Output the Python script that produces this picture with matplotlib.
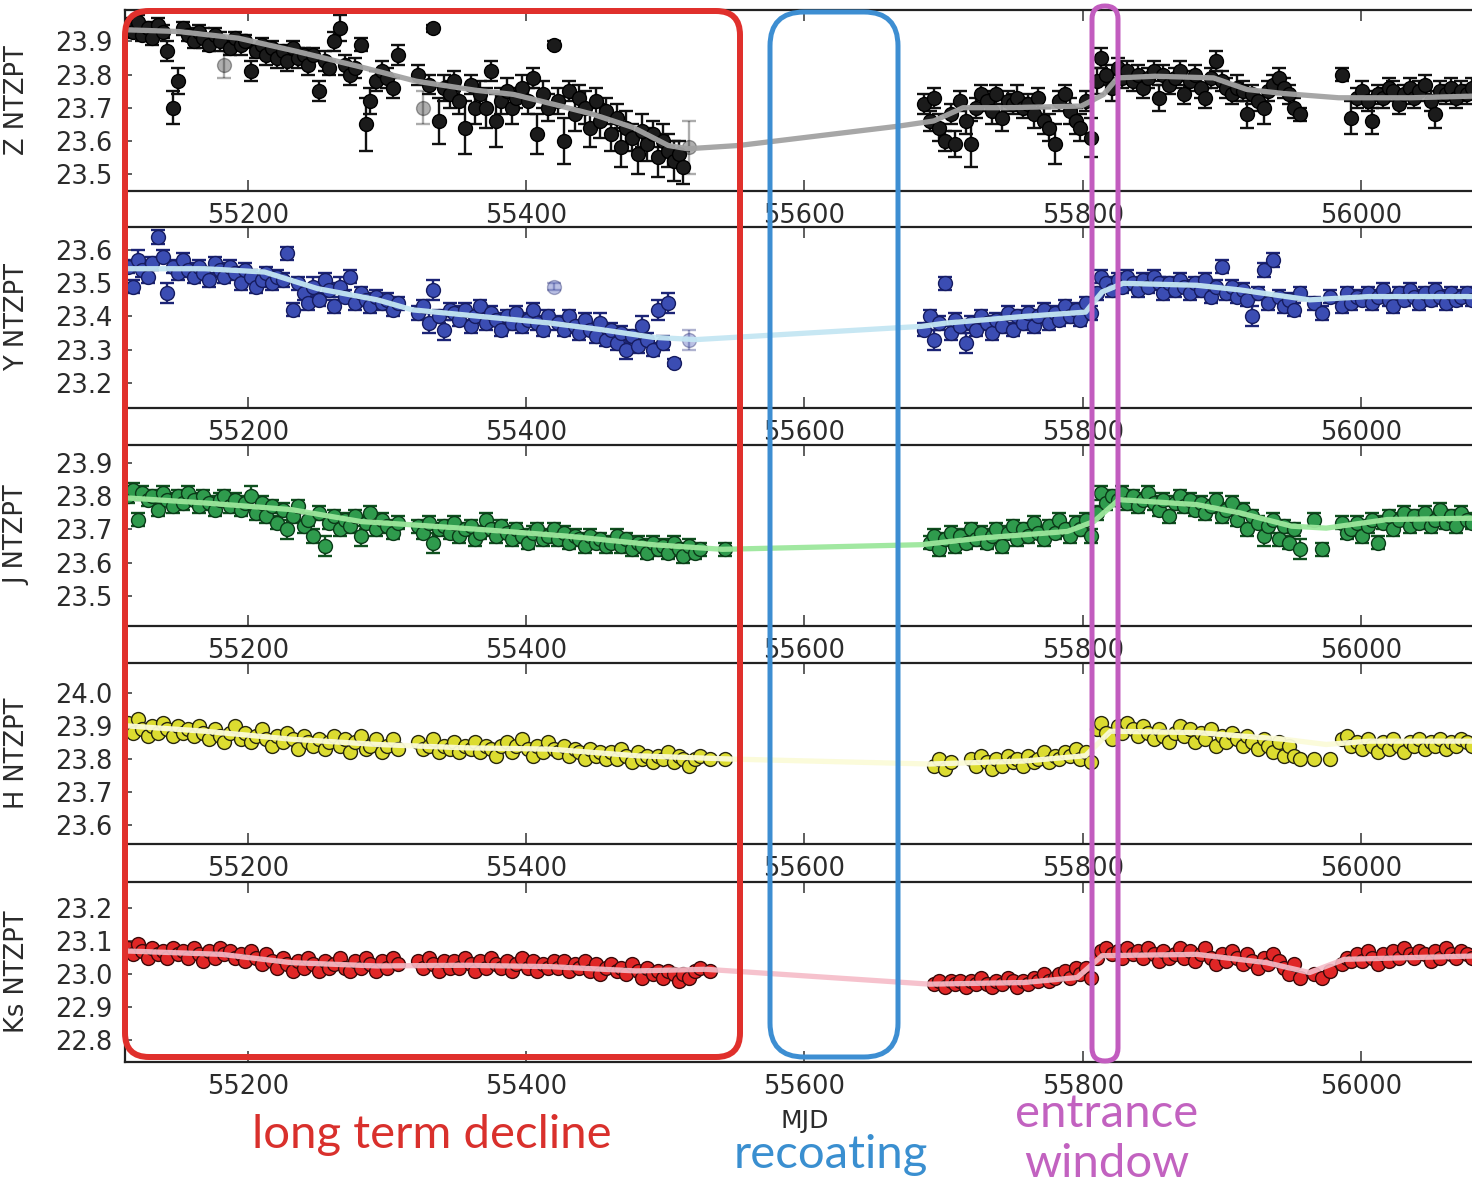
import numpy as np
import matplotlib.pyplot as plt
from matplotlib.patches import FancyBboxPatch

# nights (MJD) shared by all five bands
mjd = [
    55114, 55117, 55121, 55124, 55128, 55131, 55135, 55139, 55142, 55146,
    55150, 55153, 55157, 55161, 55165, 55168, 55172, 55176, 55180, 55183,
    55187, 55191, 55195, 55198, 55202, 55206, 55210, 55213, 55217, 55221,
    55225, 55228, 55232, 55236, 55240, 55243, 55247, 55251, 55255, 55258,
    55262, 55266, 55270, 55273, 55277, 55281, 55285, 55288, 55292, 55296,
    55300, 55304, 55308, 55322, 55326, 55330, 55333, 55337, 55341, 55345,
    55348, 55352, 55356, 55360, 55363, 55367, 55371, 55375, 55378, 55382,
    55386, 55390, 55393, 55397, 55401, 55405, 55408, 55412, 55416, 55420,
    55423, 55427, 55431, 55435, 55438, 55442, 55446, 55450, 55453, 55457,
    55461, 55465, 55468, 55472, 55476, 55480, 55483, 55487, 55491, 55495,
    55498, 55502, 55506, 55510, 55513, 55517, 55521, 55525, 55532, 55543,
    55686, 55690, 55693, 55697, 55701, 55705, 55708, 55712, 55716, 55720,
    55723, 55727, 55731, 55735, 55738, 55742, 55746, 55750, 55753, 55757,
    55761, 55765, 55768, 55772, 55776, 55780, 55783, 55787, 55791, 55795,
    55798, 55802, 55806, 55810, 55813, 55817, 55821, 55825, 55828, 55832,
    55836, 55840, 55843, 55847, 55851, 55855, 55858, 55862, 55866, 55870,
    55873, 55877, 55881, 55885, 55888, 55892, 55896, 55900, 55903, 55907,
    55911, 55915, 55918, 55922, 55926, 55930, 55933, 55937, 55941, 55945,
    55948, 55952, 55956, 55966, 55972, 55978, 55986, 55990, 55993, 55997,
    56001, 56005, 56008, 56012, 56016, 56020, 56023, 56027, 56031, 56035,
    56038, 56042, 56046, 56050, 56053, 56057, 56061, 56065, 56068, 56072,
    56076, 56080,
]

z_zp = [
    23.95, 23.93, 23.96, 23.92, 23.94, 23.91, 23.95, 23.93, 23.87, 23.70,
    23.78, 23.94, 23.92, 23.90, 23.93, 23.91, 23.89, 23.92, 23.90, 23.83,
    23.88, 23.91, 23.89, 23.90, 23.81, 23.87, 23.89, 23.86, 23.88, 23.85,
    23.87, 23.84, 23.88, 23.85, 23.86, 23.83, 23.86, 23.75, 23.84, 23.82,
    23.90, 23.94, 23.83, 23.80, 23.82, 23.89, 23.65, 23.72, 23.78, 23.81,
    23.79, 23.76, 23.86, 23.80, 23.70, 23.77, 23.94, 23.66, 23.76, 23.74,
    23.78, 23.72, 23.64, 23.77, 23.70, 23.74, 23.70, 23.81, 23.66, 23.72,
    23.75, 23.70, 23.73, 23.76, 23.72, 23.79, 23.62, 23.74, 23.70, 23.89,
    23.72, 23.60, 23.75, 23.68, 23.73, 23.70, 23.64, 23.72, 23.66, 23.69,
    23.62, 23.67, 23.58, 23.64, 23.61, 23.56, 23.63, 23.59, 23.62, 23.55,
    23.60, 23.57, 23.54, 23.56, 23.52, 23.58, None, None, None, None,
    23.71, 23.66, 23.73, 23.64, 23.60, 23.68, 23.59, 23.72, 23.66, 23.59,
    23.70, 23.74, 23.72, 23.69, 23.74, 23.67, 23.72, 23.71, 23.73, 23.70,
    23.71, 23.68, 23.73, 23.66, 23.64, 23.59, 23.72, 23.74, 23.69, 23.66,
    23.64, 23.72, 23.61, 23.78, 23.85, 23.80, 23.76, 23.82, 23.79, 23.81,
    23.78, 23.80, 23.76, 23.79, 23.81, 23.73, 23.80, 23.77, 23.79, 23.81,
    23.74, 23.78, 23.80, 23.76, 23.73, 23.79, 23.84, 23.78, 23.76, 23.74,
    23.76, 23.75, 23.68, 23.74, 23.72, 23.70, 23.75, 23.77, 23.79, 23.76,
    23.74, 23.70, 23.68, None, None, None, 23.80, None, 23.67, 23.73,
    23.75, 23.72, 23.66, 23.74, 23.73, 23.76, 23.75, 23.71, 23.74, 23.76,
    23.73, 23.75, 23.77, 23.72, 23.68, 23.75, 23.74, 23.76, 23.73, 23.75,
    23.74, 23.76,
]
z_err = [
    0.02, 0.02, 0.02, 0.02, 0.02, 0.02, 0.02, 0.02, 0.03, 0.05,
    0.04, 0.02, 0.02, 0.02, 0.02, 0.03, 0.02, 0.02, 0.03, 0.04,
    0.02, 0.02, 0.03, 0.02, 0.03, 0.02, 0.02, 0.03, 0.02, 0.03,
    0.02, 0.03, 0.02, 0.03, 0.02, 0.03, 0.02, 0.03, 0.03, 0.02,
    0.03, 0.04, 0.03, 0.03, 0.03, 0.02, 0.08, 0.04, 0.03, 0.03,
    0.03, 0.03, 0.03, 0.03, 0.05, 0.03, 0.01, 0.07, 0.04, 0.04,
    0.03, 0.04, 0.08, 0.03, 0.05, 0.04, 0.06, 0.03, 0.08, 0.04,
    0.04, 0.05, 0.03, 0.04, 0.04, 0.03, 0.06, 0.04, 0.04, 0.01,
    0.04, 0.07, 0.03, 0.05, 0.04, 0.05, 0.06, 0.04, 0.05, 0.04,
    0.05, 0.04, 0.06, 0.05, 0.04, 0.06, 0.05, 0.05, 0.04, 0.06,
    0.05, 0.05, 0.06, 0.04, 0.05, 0.08, None, None, None, None,
    0.03, 0.03, 0.03, 0.04, 0.03, 0.03, 0.04, 0.03, 0.04, 0.07,
    0.03, 0.03, 0.03, 0.04, 0.03, 0.04, 0.03, 0.03, 0.04, 0.03,
    0.03, 0.04, 0.03, 0.04, 0.04, 0.06, 0.03, 0.03, 0.04, 0.04,
    0.04, 0.03, 0.06, 0.04, 0.03, 0.03, 0.04, 0.03, 0.03, 0.03,
    0.03, 0.03, 0.03, 0.03, 0.03, 0.04, 0.03, 0.03, 0.03, 0.03,
    0.03, 0.03, 0.03, 0.03, 0.03, 0.03, 0.03, 0.03, 0.03, 0.03,
    0.04, 0.03, 0.04, 0.03, 0.03, 0.05, 0.03, 0.03, 0.03, 0.03,
    0.03, 0.03, 0.02, None, None, None, 0.02, None, 0.05, 0.03,
    0.03, 0.03, 0.04, 0.03, 0.03, 0.03, 0.03, 0.03, 0.03, 0.03,
    0.03, 0.03, 0.03, 0.03, 0.04, 0.03, 0.03, 0.03, 0.03, 0.03,
    0.03, 0.03,
]
z_flagged = [55183, 55326, 55517]

y_zp = [
    23.55, 23.49, 23.57, 23.54, 23.52, 23.56, 23.64, 23.58, 23.47, 23.55,
    23.53, 23.57, 23.54, 23.52, 23.55, 23.53, 23.51, 23.56, 23.54, 23.52,
    23.55, 23.53, 23.50, 23.54, 23.52, 23.49, 23.51, 23.53, 23.50, 23.52,
    23.51, 23.59, 23.42, 23.50, 23.47, 23.44, 23.49, 23.45, 23.51, 23.48,
    23.43, 23.49, 23.46, 23.52, 23.44, 23.47, 23.45, 23.43, 23.46, 23.44,
    23.45, 23.42, 23.44, 23.41, 23.43, 23.38, 23.48, 23.40, 23.36, 23.42,
    23.41, 23.39, 23.42, 23.37, 23.40, 23.43, 23.38, 23.41, 23.39, 23.36,
    23.40, 23.38, 23.41, 23.37, 23.39, 23.42, 23.38, 23.36, 23.40, 23.49,
    23.38, 23.36, 23.40, 23.37, 23.35, 23.39, 23.36, 23.34, 23.38, 23.33,
    23.36, 23.32, 23.35, 23.30, 23.34, 23.31, 23.37, 23.33, 23.30, 23.42,
    23.32, 23.44, 23.26, None, None, 23.33, None, None, None, None,
    23.36, 23.40, 23.33, 23.38, 23.50, 23.35, 23.39, 23.37, 23.32, 23.38,
    23.36, 23.40, 23.38, 23.35, 23.39, 23.37, 23.41, 23.36, 23.40, 23.38,
    23.41, 23.37, 23.40, 23.42, 23.38, 23.41, 23.39, 23.43, 23.40, 23.42,
    23.39, 23.44, 23.41, 23.47, 23.52, 23.50, 23.48, 23.51, 23.49, 23.52,
    23.50, 23.48, 23.51, 23.49, 23.52, 23.50, 23.47, 23.50, 23.48, 23.51,
    23.49, 23.47, 23.50, 23.48, 23.51, 23.46, 23.49, 23.55, 23.47, 23.49,
    23.46, 23.48, 23.45, 23.40, 23.47, 23.54, 23.44, 23.57, 23.46, 23.43,
    23.45, 23.42, 23.47, 23.44, 23.41, 23.46, 23.43, 23.47, 23.44, 23.46,
    23.45, 23.47, 23.44, 23.46, 23.48, 23.45, 23.43, 23.47, 23.45, 23.48,
    23.46, 23.44, 23.47, 23.45, 23.48, 23.46, 23.44, 23.47, 23.45, 23.46,
    23.47, 23.45,
]
y_err = [
    0.02, 0.02, 0.03, 0.02, 0.02, 0.02, 0.02, 0.02, 0.03, 0.02,
    0.02, 0.02, 0.02, 0.02, 0.02, 0.02, 0.02, 0.02, 0.02, 0.02,
    0.02, 0.02, 0.02, 0.02, 0.02, 0.02, 0.02, 0.02, 0.02, 0.02,
    0.02, 0.02, 0.02, 0.02, 0.02, 0.02, 0.03, 0.02, 0.02, 0.02,
    0.02, 0.03, 0.02, 0.02, 0.02, 0.02, 0.02, 0.02, 0.02, 0.02,
    0.02, 0.02, 0.02, 0.02, 0.02, 0.03, 0.03, 0.02, 0.03, 0.02,
    0.02, 0.02, 0.02, 0.02, 0.02, 0.02, 0.02, 0.02, 0.02, 0.02,
    0.02, 0.02, 0.02, 0.02, 0.02, 0.02, 0.02, 0.02, 0.02, 0.01,
    0.02, 0.02, 0.02, 0.02, 0.02, 0.02, 0.02, 0.02, 0.03, 0.02,
    0.02, 0.02, 0.02, 0.03, 0.02, 0.02, 0.03, 0.02, 0.02, 0.03,
    0.02, 0.03, 0.01, None, None, 0.03, None, None, None, None,
    0.02, 0.02, 0.03, 0.02, 0.02, 0.02, 0.02, 0.02, 0.03, 0.02,
    0.02, 0.02, 0.02, 0.02, 0.02, 0.02, 0.02, 0.02, 0.02, 0.02,
    0.02, 0.02, 0.02, 0.02, 0.02, 0.02, 0.02, 0.02, 0.02, 0.02,
    0.02, 0.02, 0.02, 0.02, 0.02, 0.02, 0.02, 0.02, 0.02, 0.02,
    0.02, 0.02, 0.02, 0.02, 0.02, 0.02, 0.02, 0.02, 0.02, 0.02,
    0.02, 0.02, 0.02, 0.02, 0.02, 0.02, 0.02, 0.02, 0.02, 0.02,
    0.02, 0.02, 0.02, 0.03, 0.02, 0.02, 0.02, 0.02, 0.02, 0.02,
    0.02, 0.02, 0.02, 0.02, 0.02, 0.02, 0.02, 0.02, 0.02, 0.02,
    0.02, 0.02, 0.02, 0.02, 0.02, 0.02, 0.02, 0.02, 0.02, 0.02,
    0.02, 0.02, 0.02, 0.02, 0.02, 0.02, 0.02, 0.02, 0.02, 0.02,
    0.02, 0.02,
]
y_flagged = [55420, 55517]

j_zp = [
    23.80, 23.82, 23.73, 23.81, 23.79, 23.80, 23.76, 23.81, 23.79, 23.77,
    23.80, 23.78, 23.81, 23.79, 23.77, 23.80, 23.78, 23.76, 23.79, 23.80,
    23.77, 23.79, 23.76, 23.78, 23.80, 23.75, 23.78, 23.74, 23.77, 23.72,
    23.76, 23.70, 23.74, 23.77, 23.71, 23.73, 23.68, 23.75, 23.65, 23.72,
    23.74, 23.70, 23.73, 23.71, 23.74, 23.68, 23.72, 23.75, 23.70, 23.73,
    23.71, 23.69, 23.72, 23.71, 23.69, 23.72, 23.66, 23.70, 23.71, 23.69,
    23.72, 23.68, 23.70, 23.71, 23.67, 23.69, 23.73, 23.70, 23.68, 23.71,
    23.69, 23.67, 23.70, 23.68, 23.66, 23.69, 23.70, 23.67, 23.68, 23.70,
    23.67, 23.69, 23.66, 23.68, 23.67, 23.65, 23.68, 23.66, 23.67, 23.65,
    23.66, 23.68, 23.65, 23.67, 23.64, 23.66, 23.65, 23.63, 23.66, 23.64,
    23.65, 23.63, 23.66, 23.64, 23.62, 23.65, 23.63, 23.64, None, 23.64,
    None, 23.66, 23.68, 23.64, 23.67, 23.69, 23.65, 23.68, 23.66, 23.70,
    23.67, 23.69, 23.66, 23.68, 23.70, 23.65, 23.69, 23.71, 23.67, 23.70,
    23.68, 23.72, 23.69, 23.67, 23.71, 23.69, 23.73, 23.70, 23.68, 23.72,
    23.70, 23.73, 23.68, 23.75, 23.81, 23.78, 23.80, 23.79, 23.81, 23.78,
    23.80, 23.77, 23.79, 23.81, 23.78, 23.76, 23.79, 23.74, 23.78, 23.80,
    23.77, 23.79, 23.76, 23.78, 23.75, 23.77, 23.79, 23.74, 23.76, 23.78,
    23.73, 23.76, 23.70, 23.74, 23.72, 23.68, 23.71, 23.73, 23.67, 23.71,
    23.66, 23.70, 23.64, 23.73, 23.64, None, 23.72, 23.69, 23.70, 23.72,
    23.68, 23.71, 23.73, 23.66, 23.72, 23.74, 23.70, 23.73, 23.75, 23.71,
    23.74, 23.72, 23.75, 23.71, 23.73, 23.76, 23.72, 23.74, 23.71, 23.75,
    23.73, 23.72,
]
j_err = [
    0.02, 0.02, 0.02, 0.02, 0.02, 0.02, 0.02, 0.02, 0.02, 0.02,
    0.02, 0.02, 0.02, 0.02, 0.02, 0.02, 0.02, 0.02, 0.02, 0.02,
    0.02, 0.02, 0.02, 0.02, 0.03, 0.02, 0.02, 0.02, 0.02, 0.02,
    0.02, 0.03, 0.02, 0.02, 0.02, 0.02, 0.02, 0.02, 0.03, 0.02,
    0.02, 0.02, 0.02, 0.02, 0.02, 0.03, 0.02, 0.02, 0.02, 0.02,
    0.02, 0.02, 0.02, 0.02, 0.02, 0.02, 0.03, 0.02, 0.02, 0.02,
    0.02, 0.02, 0.02, 0.02, 0.02, 0.02, 0.02, 0.02, 0.02, 0.02,
    0.02, 0.02, 0.02, 0.02, 0.02, 0.02, 0.02, 0.02, 0.02, 0.02,
    0.02, 0.02, 0.02, 0.02, 0.02, 0.02, 0.02, 0.02, 0.02, 0.02,
    0.02, 0.02, 0.02, 0.02, 0.02, 0.02, 0.02, 0.02, 0.02, 0.02,
    0.02, 0.02, 0.02, 0.02, 0.02, 0.02, 0.02, 0.02, None, 0.02,
    None, 0.02, 0.02, 0.02, 0.02, 0.02, 0.02, 0.02, 0.02, 0.02,
    0.02, 0.02, 0.02, 0.02, 0.02, 0.02, 0.02, 0.02, 0.02, 0.02,
    0.02, 0.02, 0.02, 0.02, 0.02, 0.02, 0.02, 0.02, 0.02, 0.02,
    0.02, 0.02, 0.02, 0.02, 0.02, 0.02, 0.02, 0.02, 0.02, 0.02,
    0.02, 0.02, 0.02, 0.02, 0.02, 0.02, 0.02, 0.02, 0.02, 0.02,
    0.02, 0.02, 0.02, 0.02, 0.02, 0.02, 0.02, 0.02, 0.02, 0.02,
    0.02, 0.02, 0.02, 0.02, 0.02, 0.03, 0.02, 0.02, 0.02, 0.02,
    0.02, 0.02, 0.03, 0.02, 0.02, None, 0.02, 0.02, 0.02, 0.02,
    0.02, 0.02, 0.02, 0.02, 0.02, 0.02, 0.02, 0.02, 0.02, 0.02,
    0.02, 0.02, 0.02, 0.02, 0.02, 0.02, 0.02, 0.02, 0.02, 0.02,
    0.02, 0.02,
]

h_zp = [
    23.91, 23.88, 23.92, 23.89, 23.87, 23.90, 23.88, 23.91, 23.89, 23.87,
    23.90, 23.88, 23.89, 23.87, 23.90, 23.88, 23.86, 23.89, 23.87, 23.85,
    23.88, 23.90, 23.86, 23.88, 23.85, 23.87, 23.89, 23.86, 23.84, 23.87,
    23.85, 23.88, 23.86, 23.83, 23.87, 23.85, 23.84, 23.86, 23.83, 23.85,
    23.87, 23.84, 23.86, 23.82, 23.85, 23.87, 23.83, 23.84, 23.86, 23.82,
    23.84, 23.86, 23.83, 23.85, 23.83, 23.84, 23.86, 23.82, 23.84, 23.83,
    23.85, 23.82, 23.84, 23.83, 23.85, 23.82, 23.84, 23.83, 23.81, 23.84,
    23.85, 23.82, 23.84, 23.86, 23.83, 23.81, 23.84, 23.82, 23.85, 23.83,
    23.82, 23.84, 23.81, 23.83, 23.82, 23.80, 23.83, 23.81, 23.82, 23.80,
    23.82, 23.80, 23.83, 23.81, 23.79, 23.82, 23.80, 23.81, 23.79, 23.81,
    23.80, 23.82, 23.79, 23.81, 23.80, 23.78, 23.80, 23.81, 23.80, 23.80,
    None, None, 23.78, 23.80, 23.77, 23.79, None, None, None, 23.80,
    23.78, 23.81, 23.79, 23.77, 23.80, 23.78, 23.81, 23.79, 23.80, 23.78,
    23.81, 23.79, 23.80, 23.82, 23.79, 23.81, 23.80, 23.82, 23.81, 23.83,
    23.80, 23.82, 23.79, 23.89, 23.91, 23.88, 23.86, 23.90, 23.88, 23.91,
    23.89, 23.87, 23.90, 23.88, 23.86, 23.89, 23.87, 23.85, 23.88, 23.90,
    23.87, 23.89, 23.85, 23.88, 23.86, 23.89, 23.84, 23.87, 23.85, 23.88,
    23.86, 23.84, 23.87, 23.85, 23.83, 23.86, 23.84, 23.82, 23.85, 23.81,
    23.84, 23.81, 23.80, 23.80, None, 23.80, 23.86, 23.87, 23.84, 23.85,
    23.83, 23.86, 23.84, 23.82, 23.85, 23.83, 23.86, 23.84, 23.82, 23.85,
    23.84, 23.86, 23.83, 23.85, 23.84, 23.86, 23.83, 23.85, 23.84, 23.86,
    23.85, 23.84,
]

ks_zp = [
    23.08, 23.06, 23.09, 23.07, 23.05, 23.08, 23.06, 23.07, 23.05, 23.08,
    23.06, 23.07, 23.05, 23.08, 23.06, 23.04, 23.07, 23.05, 23.08, 23.06,
    23.07, 23.05, 23.06, 23.04, 23.07, 23.05, 23.03, 23.06, 23.04, 23.02,
    23.05, 23.03, 23.01, 23.04, 23.02, 23.05, 23.03, 23.01, 23.04, 23.02,
    23.03, 23.05, 23.02, 23.01, 23.04, 23.02, 23.05, 23.03, 23.01, 23.04,
    23.02, 23.05, 23.03, 23.04, 23.02, 23.05, 23.03, 23.01, 23.04, 23.02,
    23.04, 23.02, 23.05, 23.03, 23.01, 23.04, 23.02, 23.05, 23.03, 23.02,
    23.04, 23.01, 23.03, 23.05, 23.02, 23.04, 23.01, 23.03, 23.02, 23.04,
    23.02, 23.04, 23.01, 23.03, 23.02, 23.04, 23.01, 23.03, 23.00, 23.02,
    23.03, 23.01, 23.02, 23.00, 23.03, 23.01, 22.99, 23.02, 23.00, 23.01,
    22.99, 23.01, 23.00, 22.98, 23.00, 22.99, 23.01, 23.02, 23.01, None,
    None, None, 22.97, 22.98, 22.96, 22.98, 22.97, 22.98, 22.96, 22.98,
    22.97, 22.99, 22.97, 22.96, 22.98, 22.97, 22.99, 22.98, 22.96, 22.98,
    22.97, 22.99, 22.98, 23.00, 22.98, 22.99, 23.00, 23.01, 22.99, 23.02,
    23.00, 23.02, 22.99, 23.05, 23.07, 23.08, 23.06, 23.07, 23.05, 23.08,
    23.06, 23.07, 23.05, 23.08, 23.06, 23.04, 23.07, 23.05, 23.06, 23.08,
    23.05, 23.07, 23.04, 23.06, 23.08, 23.05, 23.03, 23.06, 23.04, 23.07,
    23.05, 23.03, 23.06, 23.04, 23.02, 23.05, 23.03, 23.06, 23.04, 23.02,
    23.00, 23.03, 22.99, 23.00, 22.99, 23.01, 23.03, 23.05, 23.04, 23.06,
    23.04, 23.07, 23.05, 23.03, 23.06, 23.04, 23.07, 23.05, 23.08, 23.06,
    23.05, 23.07, 23.06, 23.04, 23.07, 23.05, 23.08, 23.06, 23.05, 23.07,
    23.06, 23.05,
]

# running trend per band
z_trend_mjd = [55114, 55150, 55193, 55235, 55284, 55321, 55363, 55391, 55420,
               55448, 55477, 55502, 55516, 55553, 55667, 55693, 55714, 55746,
               55799, 55815, 55825, 55852, 55894, 55918, 55944, 55984, 56036, 56081]
z_trend = [23.935, 23.93, 23.91, 23.87, 23.82, 23.78, 23.753, 23.74, 23.71,
           23.68, 23.64, 23.586, 23.576, 23.586, 23.644, 23.66, 23.70, 23.70,
           23.705, 23.74, 23.79, 23.795, 23.79, 23.755, 23.743, 23.73, 23.73, 23.735]
y_trend_mjd = [55114, 55169, 55212, 55250, 55293, 55318, 55367, 55417, 55454,
               55491, 55522, 55684, 55702, 55758, 55802, 55814, 55829, 55882,
               55913, 55963, 56006, 56081]
y_trend = [23.544, 23.544, 23.534, 23.484, 23.45, 23.42, 23.40, 23.38, 23.36,
           23.337, 23.33, 23.37, 23.38, 23.40, 23.413, 23.474, 23.50, 23.494,
           23.48, 23.45, 23.46, 23.46]
j_trend_mjd = [55114, 55169, 55231, 55281, 55318, 55367, 55429, 55491, 55541,
               55684, 55727, 55789, 55808, 55826, 55882, 55913, 55950, 55975,
               56019, 56081]
j_trend = [23.795, 23.78, 23.76, 23.724, 23.714, 23.70, 23.68, 23.654, 23.64,
           23.654, 23.674, 23.694, 23.724, 23.79, 23.775, 23.75, 23.71, 23.704,
           23.73, 23.734]
h_trend_mjd = [55114, 55169, 55231, 55293, 55355, 55417, 55479, 55547, 55690,
               55758, 55802, 55820, 55882, 55944, 55975, 56006, 56081]
h_trend = [23.90, 23.884, 23.86, 23.844, 23.834, 23.83, 23.81, 23.80, 23.785,
           23.794, 23.81, 23.884, 23.88, 23.86, 23.844, 23.854, 23.854]
ks_trend_mjd = [55114, 55181, 55231, 55293, 55355, 55417, 55479, 55529, 55690,
                55758, 55796, 55814, 55882, 55932, 55963, 55988, 56081]
ks_trend = [23.07, 23.06, 23.035, 23.025, 23.027, 23.023, 23.01, 23.015, 22.97,
            22.975, 22.99, 23.056, 23.06, 23.035, 23.005, 23.045, 23.055]


def arr(v):
    return np.array([np.nan if a is None else a for a in v], dtype=float)


x = np.array(mjd, dtype=float)

panels = [
    dict(label='Z NTZPT', y=z_zp, err=z_err, flag=z_flagged, tx=z_trend_mjd, ty=z_trend,
         face='#1b1b1b', edge='#000000', ecol='#111111', tcol='#a2a2a2', talpha=0.95,
         ylim=(23.45, 23.995), ticks=[23.5, 23.6, 23.7, 23.8, 23.9]),
    dict(label='Y NTZPT', y=y_zp, err=y_err, flag=y_flagged, tx=y_trend_mjd, ty=y_trend,
         face='#3b4db3', edge='#161c60', ecol='#1c2476', tcol='#c4e6f3', talpha=0.95,
         ylim=(23.125, 23.67), ticks=[23.2, 23.3, 23.4, 23.5, 23.6]),
    dict(label='J NTZPT', y=j_zp, err=j_err, flag=[], tx=j_trend_mjd, ty=j_trend,
         face='#2f9b4d', edge='#0b3a18', ecol='#10501f', tcol='#9ce79c', talpha=0.95,
         ylim=(23.41, 23.955), ticks=[23.5, 23.6, 23.7, 23.8, 23.9]),
    dict(label='H NTZPT', y=h_zp, err=None, flag=[], tx=h_trend_mjd, ty=h_trend,
         face='#dcdc30', edge='#262610', ecol='#262610', tcol='#fbfbd8', talpha=0.95,
         ylim=(23.545, 24.09), ticks=[23.6, 23.7, 23.8, 23.9, 24.0]),
    dict(label='Ks NTZPT', y=ks_zp, err=None, flag=[], tx=ks_trend_mjd, ty=ks_trend,
         face='#e02626', edge='#3a0a0a', ecol='#3a0a0a', tcol='#f5bcc8', talpha=0.9,
         ylim=(22.735, 23.28), ticks=[22.8, 22.9, 23.0, 23.1, 23.2]),
]

W, H = 1472, 1183
fig = plt.figure(figsize=(W / 100, H / 100), dpi=100)
fig.patch.set_facecolor('white')

left_px = 125
panel_top_px = [10, 227, 445, 663, 881.5]
panel_h_px = 180.5
txt = '#2b2b2b'
ms = 10

for p, top in zip(panels, panel_top_px):
    ax = fig.add_axes([left_px / W, 1 - (top + panel_h_px) / H,
                       (W - left_px) / W, panel_h_px / H])
    y = arr(p['y'])
    ok = ~np.isnan(y)
    flagged = np.isin(x, p['flag'])
    good = ok & ~flagged
    bad = ok & flagged

    if p['err'] is not None:
        e = arr(p['err'])
        ax.errorbar(x[good], y[good], yerr=e[good], fmt='none', ecolor=p['ecol'],
                    elinewidth=1.7, capsize=5, capthick=1.7, zorder=2)
        if bad.any():
            ax.errorbar(x[bad], y[bad], yerr=e[bad], fmt='none', ecolor=p['ecol'],
                        elinewidth=1.7, capsize=5, capthick=1.7, alpha=0.35, zorder=2)
    ax.plot(x[good], y[good], 'o', ms=ms, mfc=p['face'], mec=p['edge'], mew=1.0, zorder=3)
    if bad.any():
        ax.plot(x[bad], y[bad], 'o', ms=ms, mfc=p['face'], mec=p['edge'], mew=1.0,
                alpha=0.35, zorder=3)
    ax.plot(p['tx'], p['ty'], '-', color=p['tcol'], lw=3.8, alpha=p['talpha'],
            solid_capstyle='round', solid_joinstyle='round', zorder=4)

    ax.set_xlim(55111.6, 56079.8)
    ax.set_ylim(*p['ylim'])
    ax.set_yticks(p['ticks'])
    ax.set_yticklabels([f'{t:.1f}' for t in p['ticks']])
    ax.set_xticks([55200, 55400, 55600, 55800, 56000])
    ax.tick_params(axis='x', direction='in', length=8, width=1.1, top=True, bottom=True,
                   labelsize=18.5, labelcolor=txt, pad=9, color='#333333')
    ax.tick_params(axis='y', direction='in', length=5, width=1.1, right=False,
                   labelsize=18.5, labelcolor=txt, pad=9, color='#333333')
    for side in ('top', 'bottom', 'left'):
        ax.spines[side].set_linewidth(1.6)
        ax.spines[side].set_color('#222222')
    ax.spines['right'].set_visible(False)
    ax.set_ylabel(p['label'], fontsize=18.5, color=txt)
    ax.yaxis.set_label_coords(-0.0705, 0.5)

# overlay in pixel units for the highlight boxes and their captions
ov = fig.add_axes([0, 0, 1, 1], zorder=10)
ov.set_xlim(0, W)
ov.set_ylim(H, 0)
ov.axis('off')
ov.patch.set_alpha(0)

boxes = [
    (125, 11, 740, 1057, 24, '#e0302c', 6.0),
    (770, 12, 898, 1057, 34, '#3d8ed2', 5.0),
    (1092, 6, 1118, 1061, 13, '#c25cbf', 5.0),
]
for x0, y0, x1, y1, r, col, lw in boxes:
    ov.add_patch(FancyBboxPatch((x0, y0), x1 - x0, y1 - y0,
                                boxstyle=f'round,pad=0,rounding_size={r}',
                                fill=False, ec=col, lw=lw * 0.72))

ov.text(805, 1121, 'MJD', ha='center', va='center', fontsize=18, color=txt)
ov.text(432, 1135, 'long term decline', ha='center', va='center', fontsize=34,
        color='#d9302c', family='Lato')
ov.text(831, 1155, 'recoating', ha='center', va='center', fontsize=34,
        color='#3a8fd0', family='Lato')
ov.text(1107, 1114, 'entrance', ha='center', va='center', fontsize=34,
        color='#c262c0', family='Lato')
ov.text(1107, 1164, 'window', ha='center', va='center', fontsize=34,
        color='#c262c0', family='Lato')

fig.savefig('out.png', dpi=100)
